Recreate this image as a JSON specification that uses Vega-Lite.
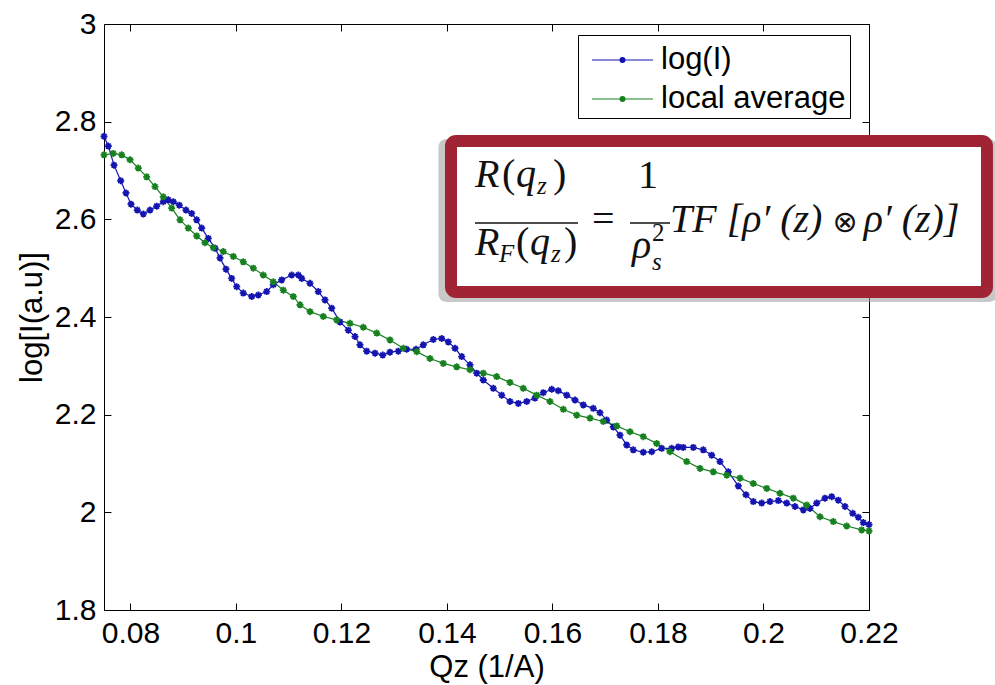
{
  "$schema": "https://vega.github.io/schema/vega-lite/v6.json",
  "width": 765,
  "height": 586,
  "autosize": {"type": "none"},
  "padding": {"left": 104, "top": 24, "right": 126, "bottom": 75},
  "background": "white",
  "config": {
    "view": {"stroke": null},
    "font": "Liberation Sans",
    "axis": {
      "domainColor": "black", "domainWidth": 1, "tickColor": "black", "tickWidth": 1, "tickSize": -7,
      "labelFont": "Liberation Sans", "labelFontSize": 30, "labelColor": "black",
      "titleFont": "Liberation Sans", "titleFontSize": 31, "titleFontWeight": "normal", "titleColor": "black",
      "grid": false, "labelFlush": false, "labelPadding": 15, "labelOverlap": false
    }
  },
  "datasets": {
    "curves": [
      {"q": 0.0750, "v": 2.770, "series": "log(I)"},
      {"q": 0.07582, "v": 2.750, "series": "log(I)"},
      {"q": 0.0769, "v": 2.711, "series": "log(I)"},
      {"q": 0.07817, "v": 2.679, "series": "log(I)"},
      {"q": 0.07917, "v": 2.654, "series": "log(I)"},
      {"q": 0.08012, "v": 2.631, "series": "log(I)"},
      {"q": 0.08131, "v": 2.619, "series": "log(I)"},
      {"q": 0.08245, "v": 2.611, "series": "log(I)"},
      {"q": 0.08372, "v": 2.619, "series": "log(I)"},
      {"q": 0.08499, "v": 2.627, "series": "log(I)"},
      {"q": 0.08624, "v": 2.636, "series": "log(I)"},
      {"q": 0.08719, "v": 2.640, "series": "log(I)"},
      {"q": 0.08814, "v": 2.636, "series": "log(I)"},
      {"q": 0.08927, "v": 2.629, "series": "log(I)"},
      {"q": 0.09054, "v": 2.619, "series": "log(I)"},
      {"q": 0.09162, "v": 2.612, "series": "log(I)"},
      {"q": 0.09257, "v": 2.599, "series": "log(I)"},
      {"q": 0.09352, "v": 2.582, "series": "log(I)"},
      {"q": 0.09477, "v": 2.561, "series": "log(I)"},
      {"q": 0.09604, "v": 2.541, "series": "log(I)"},
      {"q": 0.09699, "v": 2.521, "series": "log(I)"},
      {"q": 0.09812, "v": 2.498, "series": "log(I)"},
      {"q": 0.0992, "v": 2.479, "series": "log(I)"},
      {"q": 0.10015, "v": 2.462, "series": "log(I)"},
      {"q": 0.1014, "v": 2.449, "series": "log(I)"},
      {"q": 0.1030, "v": 2.442, "series": "log(I)"},
      {"q": 0.10425, "v": 2.445, "series": "log(I)"},
      {"q": 0.10584, "v": 2.452, "series": "log(I)"},
      {"q": 0.10709, "v": 2.466, "series": "log(I)"},
      {"q": 0.10868, "v": 2.476, "series": "log(I)"},
      {"q": 0.11058, "v": 2.486, "series": "log(I)"},
      {"q": 0.11183, "v": 2.486, "series": "log(I)"},
      {"q": 0.11247, "v": 2.479, "series": "log(I)"},
      {"q": 0.11405, "v": 2.469, "series": "log(I)"},
      {"q": 0.11562, "v": 2.452, "series": "log(I)"},
      {"q": 0.11689, "v": 2.435, "series": "log(I)"},
      {"q": 0.11816, "v": 2.418, "series": "log(I)"},
      {"q": 0.11973, "v": 2.390, "series": "log(I)"},
      {"q": 0.12131, "v": 2.373, "series": "log(I)"},
      {"q": 0.12258, "v": 2.360, "series": "log(I)"},
      {"q": 0.12352, "v": 2.343, "series": "log(I)"},
      {"q": 0.12479, "v": 2.330, "series": "log(I)"},
      {"q": 0.12637, "v": 2.326, "series": "log(I)"},
      {"q": 0.12783, "v": 2.322, "series": "log(I)"},
      {"q": 0.12921, "v": 2.328, "series": "log(I)"},
      {"q": 0.13078, "v": 2.330, "series": "log(I)"},
      {"q": 0.13237, "v": 2.334, "series": "log(I)"},
      {"q": 0.13414, "v": 2.334, "series": "log(I)"},
      {"q": 0.13552, "v": 2.343, "series": "log(I)"},
      {"q": 0.13742, "v": 2.354, "series": "log(I)"},
      {"q": 0.13901, "v": 2.356, "series": "log(I)"},
      {"q": 0.14026, "v": 2.349, "series": "log(I)"},
      {"q": 0.14153, "v": 2.336, "series": "log(I)"},
      {"q": 0.1428, "v": 2.319, "series": "log(I)"},
      {"q": 0.14437, "v": 2.302, "series": "log(I)"},
      {"q": 0.14564, "v": 2.285, "series": "log(I)"},
      {"q": 0.14689, "v": 2.271, "series": "log(I)"},
      {"q": 0.14879, "v": 2.254, "series": "log(I)"},
      {"q": 0.15038, "v": 2.240, "series": "log(I)"},
      {"q": 0.15195, "v": 2.227, "series": "log(I)"},
      {"q": 0.15353, "v": 2.223, "series": "log(I)"},
      {"q": 0.15512, "v": 2.227, "series": "log(I)"},
      {"q": 0.15669, "v": 2.234, "series": "log(I)"},
      {"q": 0.15827, "v": 2.245, "series": "log(I)"},
      {"q": 0.15986, "v": 2.252, "series": "log(I)"},
      {"q": 0.16111, "v": 2.249, "series": "log(I)"},
      {"q": 0.1627, "v": 2.240, "series": "log(I)"},
      {"q": 0.16427, "v": 2.230, "series": "log(I)"},
      {"q": 0.16585, "v": 2.220, "series": "log(I)"},
      {"q": 0.16774, "v": 2.213, "series": "log(I)"},
      {"q": 0.16901, "v": 2.204, "series": "log(I)"},
      {"q": 0.17028, "v": 2.189, "series": "log(I)"},
      {"q": 0.17153, "v": 2.175, "series": "log(I)"},
      {"q": 0.1728, "v": 2.158, "series": "log(I)"},
      {"q": 0.17407, "v": 2.138, "series": "log(I)"},
      {"q": 0.17532, "v": 2.128, "series": "log(I)"},
      {"q": 0.17722, "v": 2.123, "series": "log(I)"},
      {"q": 0.17881, "v": 2.124, "series": "log(I)"},
      {"q": 0.18071, "v": 2.131, "series": "log(I)"},
      {"q": 0.1826, "v": 2.131, "series": "log(I)"},
      {"q": 0.18385, "v": 2.134, "series": "log(I)"},
      {"q": 0.1848, "v": 2.133, "series": "log(I)"},
      {"q": 0.1867, "v": 2.133, "series": "log(I)"},
      {"q": 0.18859, "v": 2.128, "series": "log(I)"},
      {"q": 0.19018, "v": 2.117, "series": "log(I)"},
      {"q": 0.19176, "v": 2.104, "series": "log(I)"},
      {"q": 0.19333, "v": 2.083, "series": "log(I)"},
      {"q": 0.19523, "v": 2.054, "series": "log(I)"},
      {"q": 0.19668, "v": 2.036, "series": "log(I)"},
      {"q": 0.19807, "v": 2.022, "series": "log(I)"},
      {"q": 0.19966, "v": 2.019, "series": "log(I)"},
      {"q": 0.20123, "v": 2.022, "series": "log(I)"},
      {"q": 0.20281, "v": 2.024, "series": "log(I)"},
      {"q": 0.2044, "v": 2.019, "series": "log(I)"},
      {"q": 0.20597, "v": 2.012, "series": "log(I)"},
      {"q": 0.20755, "v": 2.005, "series": "log(I)"},
      {"q": 0.20882, "v": 2.008, "series": "log(I)"},
      {"q": 0.21009, "v": 2.019, "series": "log(I)"},
      {"q": 0.21166, "v": 2.029, "series": "log(I)"},
      {"q": 0.21293, "v": 2.032, "series": "log(I)"},
      {"q": 0.21418, "v": 2.025, "series": "log(I)"},
      {"q": 0.21545, "v": 2.012, "series": "log(I)"},
      {"q": 0.21691, "v": 1.998, "series": "log(I)"},
      {"q": 0.21797, "v": 1.990, "series": "log(I)"},
      {"q": 0.21892, "v": 1.979, "series": "log(I)"},
      {"q": 0.2200, "v": 1.975, "series": "log(I)"},
      {"q": 0.0750, "v": 2.732, "series": "local average"},
      {"q": 0.07676, "v": 2.735, "series": "local average"},
      {"q": 0.07835, "v": 2.732, "series": "local average"},
      {"q": 0.07993, "v": 2.722, "series": "local average"},
      {"q": 0.0815, "v": 2.705, "series": "local average"},
      {"q": 0.08309, "v": 2.687, "series": "local average"},
      {"q": 0.08467, "v": 2.667, "series": "local average"},
      {"q": 0.08624, "v": 2.646, "series": "local average"},
      {"q": 0.08783, "v": 2.623, "series": "local average"},
      {"q": 0.08941, "v": 2.599, "series": "local average"},
      {"q": 0.09098, "v": 2.582, "series": "local average"},
      {"q": 0.09257, "v": 2.566, "series": "local average"},
      {"q": 0.09414, "v": 2.552, "series": "local average"},
      {"q": 0.09572, "v": 2.542, "series": "local average"},
      {"q": 0.09761, "v": 2.534, "series": "local average"},
      {"q": 0.09951, "v": 2.524, "series": "local average"},
      {"q": 0.1014, "v": 2.513, "series": "local average"},
      {"q": 0.1033, "v": 2.500, "series": "local average"},
      {"q": 0.10519, "v": 2.486, "series": "local average"},
      {"q": 0.10709, "v": 2.472, "series": "local average"},
      {"q": 0.10898, "v": 2.455, "series": "local average"},
      {"q": 0.11088, "v": 2.442, "series": "local average"},
      {"q": 0.11215, "v": 2.425, "series": "local average"},
      {"q": 0.11405, "v": 2.411, "series": "local average"},
      {"q": 0.11657, "v": 2.401, "series": "local average"},
      {"q": 0.11911, "v": 2.394, "series": "local average"},
      {"q": 0.12163, "v": 2.387, "series": "local average"},
      {"q": 0.12415, "v": 2.379, "series": "local average"},
      {"q": 0.12669, "v": 2.367, "series": "local average"},
      {"q": 0.12921, "v": 2.353, "series": "local average"},
      {"q": 0.13173, "v": 2.336, "series": "local average"},
      {"q": 0.13427, "v": 2.329, "series": "local average"},
      {"q": 0.13679, "v": 2.315, "series": "local average"},
      {"q": 0.13931, "v": 2.305, "series": "local average"},
      {"q": 0.14185, "v": 2.298, "series": "local average"},
      {"q": 0.14437, "v": 2.292, "series": "local average"},
      {"q": 0.14689, "v": 2.285, "series": "local average"},
      {"q": 0.14943, "v": 2.278, "series": "local average"},
      {"q": 0.15195, "v": 2.266, "series": "local average"},
      {"q": 0.15447, "v": 2.254, "series": "local average"},
      {"q": 0.15701, "v": 2.240, "series": "local average"},
      {"q": 0.15953, "v": 2.227, "series": "local average"},
      {"q": 0.16206, "v": 2.211, "series": "local average"},
      {"q": 0.1646, "v": 2.199, "series": "local average"},
      {"q": 0.16712, "v": 2.193, "series": "local average"},
      {"q": 0.16964, "v": 2.186, "series": "local average"},
      {"q": 0.17218, "v": 2.177, "series": "local average"},
      {"q": 0.1747, "v": 2.165, "series": "local average"},
      {"q": 0.17722, "v": 2.155, "series": "local average"},
      {"q": 0.17976, "v": 2.141, "series": "local average"},
      {"q": 0.18228, "v": 2.124, "series": "local average"},
      {"q": 0.18545, "v": 2.104, "series": "local average"},
      {"q": 0.18797, "v": 2.090, "series": "local average"},
      {"q": 0.19049, "v": 2.083, "series": "local average"},
      {"q": 0.19303, "v": 2.076, "series": "local average"},
      {"q": 0.19555, "v": 2.070, "series": "local average"},
      {"q": 0.19807, "v": 2.059, "series": "local average"},
      {"q": 0.20061, "v": 2.049, "series": "local average"},
      {"q": 0.20313, "v": 2.039, "series": "local average"},
      {"q": 0.20565, "v": 2.029, "series": "local average"},
      {"q": 0.20819, "v": 2.015, "series": "local average"},
      {"q": 0.21071, "v": 1.991, "series": "local average"},
      {"q": 0.21323, "v": 1.981, "series": "local average"},
      {"q": 0.21577, "v": 1.972, "series": "local average"},
      {"q": 0.21862, "v": 1.964, "series": "local average"},
      {"q": 0.2200, "v": 1.962, "series": "local average"}
    ],
    "shadow": [{"x1": 0.13839, "x2": 0.24426, "y1": 2.7645, "y2": 2.4307}],
    "box": [{"x1": 0.14077, "x2": 0.24236, "y1": 2.7604, "y2": 2.4512}],
    "fItalic": [
      {"x": 0.14532, "y": 2.6662, "t": "R"},
      {"x": 0.15309, "y": 2.6662, "t": "q"},
      {"x": 0.14532, "y": 2.5270, "t": "R"},
      {"x": 0.15574, "y": 2.5270, "t": "q"},
      {"x": 0.17508, "y": 2.5208, "t": "ρ"},
      {"x": 0.18228, "y": 2.5741, "t": "TF [ρ′ (z)"},
      {"x": 0.21900, "y": 2.5741, "t": "ρ′ (z)]"}
    ],
    "fUpright": [
      {"x": 0.15044, "y": 2.6662, "t": "("},
      {"x": 0.1601, "y": 2.6662, "t": ")"},
      {"x": 0.15309, "y": 2.5270, "t": "("},
      {"x": 0.16219, "y": 2.5270, "t": ")"},
      {"x": 0.1675, "y": 2.5741, "t": "="},
      {"x": 0.17622, "y": 2.6642, "t": "1"}
    ],
    "fOp": [
      {"x": 0.21310, "y": 2.5741, "t": "⊗"}
    ],
    "fSubItalic": [
      {"x": 0.15707, "y": 2.6519, "t": "z"},
      {"x": 0.14987, "y": 2.5126, "t": "F"},
      {"x": 0.15972, "y": 2.5126, "t": "z"},
      {"x": 0.17887, "y": 2.4962, "t": "s"}
    ],
    "fSup": [
      {"x": 0.17887, "y": 2.5556, "t": "2"}
    ],
    "bars": [
      {"x1": 0.14532, "x2": 0.16484, "y": 2.5925},
      {"x1": 0.1747, "x2": 0.18228, "y": 2.5925}
    ]
  },
  "layer": [
    {
      "data": {"name": "curves"},
      "mark": {"type": "line", "strokeWidth": 1.2},
      "encoding": {
        "x": {"field": "q", "type": "quantitative", "scale": {"domain": [0.075, 0.22], "nice": false, "zero": false},
              "axis": {"orient": "bottom", "title": "Qz (1/A)", "values": [0.08, 0.1, 0.12, 0.14, 0.16, 0.18, 0.2, 0.22], "format": "~g", "titlePadding": 4}},
        "y": {"field": "v", "type": "quantitative", "scale": {"domain": [1.8, 3], "nice": false, "zero": false},
              "axis": {"orient": "left", "title": "log[I(a.u)]", "values": [1.8, 2, 2.2, 2.4, 2.6, 2.8, 3], "format": "~g", "titlePadding": 6}},
        "color": {"field": "series", "type": "nominal",
                  "scale": {"domain": ["log(I)", "local average"], "range": ["#1414b0", "#17801f"]},
                  "legend": {"orient": "none", "legendX": 474, "legendY": 11, "title": null,
                             "strokeColor": "black", "fillColor": "white", "padding": 4,
                             "labelFont": "Liberation Sans", "labelFontSize": 31, "labelColor": "black", "labelLimit": 400,
                             "symbolType": "M-0.55,0L2.5,0M0.855,0A0.12,0.12,0,1,0,1.095,0A0.12,0.12,0,1,0,0.855,0",
                             "symbolSize": 1600, "symbolStrokeWidth": 1.2, "labelOffset": 37, "rowPadding": 3,
                             "encode": {"symbols": {"update": {"fill": {"scale": "color", "field": "value"}, "stroke": {"scale": "color", "field": "value"}}}}}}
      }
    },
    {
      "data": {"name": "curves"},
      "mark": {"type": "point", "shape": "M-1,0L1,0M0,-1L0,1M-0.7,-0.7L0.7,0.7M-0.7,0.7L0.7,-0.7", "size": 49, "strokeWidth": 1.8, "filled": false, "opacity": 1},
      "encoding": {
        "x": {"field": "q", "type": "quantitative", "scale": {"domain": [0.075, 0.22], "nice": false, "zero": false},
              "axis": {"orient": "top", "title": null, "labels": false, "values": [0.08, 0.1, 0.12, 0.14, 0.16, 0.18, 0.2, 0.22]}},
        "y": {"field": "v", "type": "quantitative", "scale": {"domain": [1.8, 3], "nice": false, "zero": false},
              "axis": {"orient": "right", "title": null, "labels": false, "values": [1.8, 2, 2.2, 2.4, 2.6, 2.8, 3]}},
        "color": {"field": "series", "type": "nominal"}
      }
    },
    {
      "data": {"name": "shadow"},
      "mark": {"type": "rect", "fill": "#9a9a9a", "opacity": 0.55, "cornerRadius": 8},
      "encoding": {
        "x": {"field": "x1", "type": "quantitative", "scale": {"domain": [0.075, 0.22], "nice": false, "zero": false}, "axis": null},
        "x2": {"field": "x2"},
        "y": {"field": "y1", "type": "quantitative", "scale": {"domain": [1.8, 3], "nice": false, "zero": false}, "axis": null},
        "y2": {"field": "y2"}
      }
    },
    {
      "data": {"name": "box"},
      "mark": {"type": "rect", "fill": "white", "stroke": "#a02434", "strokeWidth": 12, "cornerRadius": 5},
      "encoding": {
        "x": {"field": "x1", "type": "quantitative", "scale": {"domain": [0.075, 0.22], "nice": false, "zero": false}, "axis": null},
        "x2": {"field": "x2"},
        "y": {"field": "y1", "type": "quantitative", "scale": {"domain": [1.8, 3], "nice": false, "zero": false}, "axis": null},
        "y2": {"field": "y2"}
      }
    },
    {
      "data": {"name": "fItalic"},
      "mark": {"type": "text", "font": "Liberation Serif", "fontStyle": "italic", "fontSize": 40, "align": "left", "baseline": "alphabetic", "color": "#111111"},
      "encoding": {
        "x": {"field": "x", "type": "quantitative", "scale": {"domain": [0.075, 0.22], "nice": false, "zero": false}, "axis": null},
        "y": {"field": "y", "type": "quantitative", "scale": {"domain": [1.8, 3], "nice": false, "zero": false}, "axis": null},
        "text": {"field": "t"}
      }
    },
    {
      "data": {"name": "fUpright"},
      "mark": {"type": "text", "font": "Liberation Serif", "fontSize": 40, "align": "left", "baseline": "alphabetic", "color": "#111111"},
      "encoding": {
        "x": {"field": "x", "type": "quantitative", "scale": {"domain": [0.075, 0.22], "nice": false, "zero": false}, "axis": null},
        "y": {"field": "y", "type": "quantitative", "scale": {"domain": [1.8, 3], "nice": false, "zero": false}, "axis": null},
        "text": {"field": "t"}
      }
    },
    {
      "data": {"name": "fOp"},
      "mark": {"type": "text", "font": "DejaVu Sans", "fontSize": 30, "fontWeight": "normal", "align": "left", "baseline": "alphabetic", "color": "#111111"},
      "encoding": {
        "x": {"field": "x", "type": "quantitative", "scale": {"domain": [0.075, 0.22], "nice": false, "zero": false}, "axis": null},
        "y": {"field": "y", "type": "quantitative", "scale": {"domain": [1.8, 3], "nice": false, "zero": false}, "axis": null},
        "text": {"field": "t"}
      }
    },
    {
      "data": {"name": "fSubItalic"},
      "mark": {"type": "text", "font": "Liberation Serif", "fontStyle": "italic", "fontSize": 25, "align": "left", "baseline": "alphabetic", "color": "#111111"},
      "encoding": {
        "x": {"field": "x", "type": "quantitative", "scale": {"domain": [0.075, 0.22], "nice": false, "zero": false}, "axis": null},
        "y": {"field": "y", "type": "quantitative", "scale": {"domain": [1.8, 3], "nice": false, "zero": false}, "axis": null},
        "text": {"field": "t"}
      }
    },
    {
      "data": {"name": "fSup"},
      "mark": {"type": "text", "font": "Liberation Serif", "fontSize": 25, "align": "left", "baseline": "alphabetic", "color": "#111111"},
      "encoding": {
        "x": {"field": "x", "type": "quantitative", "scale": {"domain": [0.075, 0.22], "nice": false, "zero": false}, "axis": null},
        "y": {"field": "y", "type": "quantitative", "scale": {"domain": [1.8, 3], "nice": false, "zero": false}, "axis": null},
        "text": {"field": "t"}
      }
    },
    {
      "data": {"name": "bars"},
      "mark": {"type": "rule", "color": "#111111", "strokeWidth": 1.6},
      "encoding": {
        "x": {"field": "x1", "type": "quantitative", "scale": {"domain": [0.075, 0.22], "nice": false, "zero": false}, "axis": null},
        "x2": {"field": "x2"},
        "y": {"field": "y", "type": "quantitative", "scale": {"domain": [1.8, 3], "nice": false, "zero": false}, "axis": null}
      }
    }
  ],
  "resolve": {"axis": {"x": "independent", "y": "independent"}}
}
